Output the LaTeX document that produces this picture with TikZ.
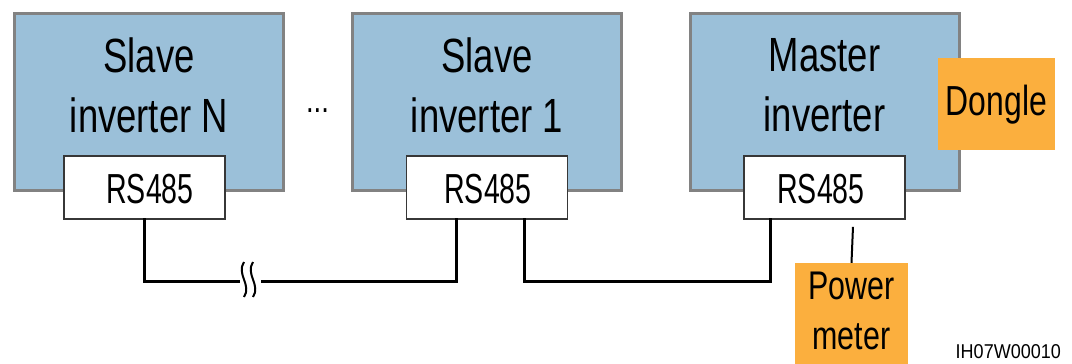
\documentclass[tikz,border=0pt]{standalone}
\usepackage{fontspec}
\setmainfont[FakeStretch=0.76]{Liberation Sans}
\newfontfamily\portfont[FakeStretch=0.68]{Liberation Sans}
\newfontfamily\idfont[FakeStretch=0.9]{Liberation Sans}
\definecolor{invblue}{RGB}{155,192,217}
\definecolor{invgray}{RGB}{130,130,130}
\definecolor{accorange}{RGB}{251,175,62}
\definecolor{portline}{RGB}{55,55,55}
\tikzset{
  invbox/.style={draw=invgray, line width=3pt, fill=invblue, minimum width=269pt, minimum height=177pt, inner sep=0pt},
  invtext/.style={align=center, inner sep=0pt, font=\fontsize{48}{60}\selectfont},
  portbox/.style={draw=portline, line width=1.6pt, fill=white, minimum width=161pt, minimum height=63pt, inner sep=0pt},
  porttext/.style={anchor=base, inner sep=0pt, font=\portfont\fontsize{42}{50}\selectfont},
  acctext/.style={inner sep=0pt, font=\fontsize{42}{50}\selectfont},
  accbox/.style={fill=accorange, inner sep=0pt},
  cable/.style={line width=3pt, black, line cap=rect, line join=miter},
  breakmark/.style={line width=2pt, black}
}
\begin{document}
\begin{tikzpicture}[x=1pt, y=-1pt]
\useasboundingbox (0,0) rectangle (1072,364);
\clip (0,0) rectangle (1072,364);

% inverters
\node[invbox] (sn) at (149,102) {};
\node[invbox] (s1) at (487,102) {};
\node[invbox] (ms) at (824.5,102) {};
\node[invtext] (snt) at (149,85) {Slave\\inverter N};
\node[invtext] (s1t) at (487,85) {Slave\\inverter 1};
\node[invtext] (mst) at (824.5,85) {Master\\inverter};

% dongle
\node[accbox, minimum width=117pt, minimum height=92pt] (dg) at (996.5,104) {};
\node[acctext, anchor=base] (dgt) at (996.5,115) {Dongle};

% RS485 ports
\node[portbox] (rsn) at (144.5,187.5) {};
\node[portbox] (rs1) at (487,187.5) {};
\node[portbox] (rsm) at (824.5,187.5) {};
\node[porttext] (rsnt) at (150,203) {RS485};
\node[porttext] (rs1t) at (488,203) {RS485};
\node[porttext] (rsmt) at (821,203) {RS485};

% ellipsis
\node[anchor=base, inner sep=0pt, font=\fontsize{36}{40}\selectfont] (dots) at (317.5,112) {...};

% power meter
\node[accbox, minimum width=113pt, minimum height=110pt] (pm) at (851.5,318) {};
\node[acctext, align=center, font=\fontsize{40}{50}\selectfont] (pmt) at (851.5,311) {Power\\meter};

% cables
\coordinate (brkL) at (238,281);
\coordinate (brkR) at (262,281);
\draw[cable] (rsn.south) |- (brkL);
\draw[cable] (brkR) -| ([xshift=-31pt]rs1.south);
\draw[cable] ([xshift=37pt]rs1.south) |- (770,281) -- ([xshift=-54.5pt]rsm.south);
\draw[line width=2pt, black] ([xshift=28.5pt, yshift=-7pt]rsm.south) -- (pm.north);

% break mark
\draw[breakmark] (244,262) .. controls (236,274) and (252,285) .. (244,297);
\draw[breakmark] (253,262) .. controls (245,274) and (261,285) .. (253,297);

% drawing id
\node[anchor=base east, inner sep=0pt, font=\idfont\fontsize{20}{24}\selectfont] (id) at (1061,358) {IH07W00010};
\end{tikzpicture}
\end{document}
